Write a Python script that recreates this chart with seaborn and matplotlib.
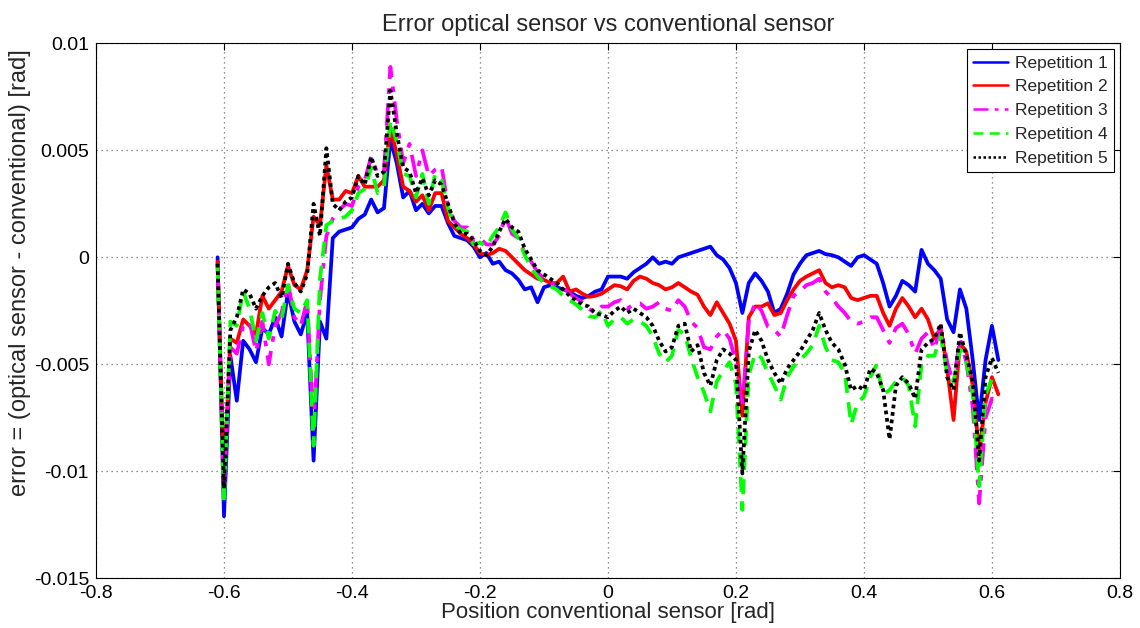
import numpy as np
import pandas as pd
import matplotlib
matplotlib.use("Agg")
import matplotlib.pyplot as plt
import seaborn as sns

# Position of the conventional sensor [rad], shared by all repetitions
position = [
    -0.61, -0.60, -0.59, -0.58, -0.57, -0.56, -0.55, -0.54, -0.53, -0.52,
    -0.51, -0.50, -0.49, -0.48, -0.47, -0.46, -0.45, -0.44, -0.43, -0.42,
    -0.41, -0.40, -0.39, -0.38, -0.37, -0.36, -0.35, -0.34, -0.33, -0.32,
    -0.31, -0.30, -0.29, -0.28, -0.27, -0.26, -0.25, -0.24, -0.23, -0.22,
    -0.21, -0.20, -0.19, -0.18, -0.17, -0.16, -0.15, -0.14, -0.13, -0.12,
    -0.11, -0.10, -0.09, -0.08, -0.07, -0.06, -0.05, -0.04, -0.03, -0.02,
    -0.01, 0.00, 0.01, 0.02, 0.03, 0.04, 0.05, 0.06, 0.07, 0.08,
    0.09, 0.10, 0.11, 0.12, 0.13, 0.14, 0.15, 0.16, 0.17, 0.18,
    0.19, 0.20, 0.21, 0.22, 0.23, 0.24, 0.25, 0.26, 0.27, 0.28,
    0.29, 0.30, 0.31, 0.32, 0.33, 0.34, 0.35, 0.36, 0.37, 0.38,
    0.39, 0.40, 0.41, 0.42, 0.43, 0.44, 0.45, 0.46, 0.47, 0.48,
    0.49, 0.50, 0.51, 0.52, 0.53, 0.54, 0.55, 0.56, 0.57, 0.58,
    0.59, 0.60, 0.61,
]

# Error (optical - conventional) per repetition, in mrad
rep1_mrad = [
    0.0, -12.1, -4.6, -6.7, -3.9, -4.3, -4.9, -3.3, -3.6, -2.8,
    -3.7, -1.6, -3.0, -3.6, -2.6, -9.5, -3.0, -3.8, 0.9, 1.2,
    1.3, 1.4, 1.8, 2.0, 2.7, 2.1, 2.3, 5.5, 4.4, 2.8,
    3.1, 2.2, 2.5, 2.05, 2.4, 2.4, 1.6, 1.0, 0.9, 0.8,
    0.5, 0.0, 0.2, -0.3, -0.2, -0.6, -0.75, -1.05, -1.5, -1.4,
    -2.1, -1.4, -1.3, -1.4, -1.5, -1.6, -1.8, -1.9, -1.8, -1.6,
    -1.5, -0.9, -0.9, -0.9, -1.0, -0.7, -0.5, -0.3, 0.0, -0.3,
    -0.2, -0.3, 0.0, 0.1, 0.2, 0.3, 0.4, 0.5, 0.1, -0.1,
    -0.5, -1.2, -2.6, -1.2, -0.75, -1.1, -1.6, -2.6, -2.4, -1.7,
    -0.8, -0.3, 0.1, 0.2, 0.3, 0.15, 0.1, 0.0, -0.2, -0.4,
    0.0, 0.1, -0.1, -0.3, -1.2, -2.3, -1.8, -1.1, -1.3, -1.6,
    0.35, -0.3, -0.6, -1.0, -2.9, -3.5, -1.5, -2.4, -4.8, -7.6,
    -4.8, -3.2, -4.8,
]
rep2_mrad = [
    -0.2, -10.5, -3.8, -4.0, -2.9, -3.2, -3.6, -1.8, -2.4, -2.0,
    -1.6, -0.4, -1.3, -1.5, -0.6, 1.9, 1.5, 4.3, 2.7, 2.7,
    3.1, 3.0, 3.8, 3.3, 3.3, 3.3, 3.6, 6.1, 4.8, 3.3,
    3.1, 2.6, 2.9, 2.2, 3.0, 3.0, 1.7, 1.4, 1.1, 0.9,
    0.6, 0.2, 0.1, 0.2, 0.4, 0.3, 0.0, -0.3, -0.6, -0.8,
    -1.0, -1.05, -1.2, -1.2, -0.9, -1.6, -1.5, -1.7, -1.85, -1.8,
    -1.7, -1.5, -1.3, -1.35, -1.5, -1.1, -0.9, -1.0, -1.2, -1.3,
    -1.5, -1.4, -1.2, -1.4, -1.6, -1.75, -2.3, -2.7, -2.1, -2.6,
    -3.1, -3.9, -7.4, -2.8, -2.3, -2.3, -2.15, -2.7, -2.6, -2.0,
    -1.5, -1.1, -0.9, -0.75, -0.6, -1.2, -1.4, -1.3, -1.4, -1.9,
    -2.0, -1.9, -1.8, -1.8, -2.6, -3.2, -2.4, -1.9, -2.3, -2.8,
    -2.4, -2.9, -3.8, -3.3, -5.2, -7.6, -4.0, -4.4, -6.0, -9.1,
    -6.8, -5.6, -6.4,
]
rep3_mrad = [
    -0.3, -11.0, -4.2, -4.5, -3.2, -3.0, -4.4, -3.0, -5.0, -3.2,
    -2.6, -1.2, -2.8, -3.2, -2.0, -8.0, -2.0, 1.0, 1.8, 2.2,
    2.5, 2.4, 3.3, 3.6, 4.7, 3.9, 4.0, 8.9, 6.4, 4.4,
    5.3, 3.8, 5.0, 3.8, 4.1, 4.25, 2.4, 1.7, 1.4, 1.4,
    0.8, 0.9, 0.6, 0.6, 1.0, 1.9, 1.1, 0.9, 0.2, -0.2,
    -0.7, -1.0, -1.2, -1.3, -1.4, -1.7, -1.9, -2.1, -2.4, -2.6,
    -2.3, -2.3, -2.1, -2.0, -2.4, -2.2, -2.15, -2.4, -2.3, -2.1,
    -2.4, -2.5, -2.0, -2.3, -3.0, -3.3, -4.2, -4.3, -3.7, -3.4,
    -3.8, -4.9, -7.0, -3.0, -2.1, -2.5, -3.25, -3.4, -3.7, -2.7,
    -1.8, -1.6, -1.3, -1.2, -1.0, -1.6, -1.9, -2.3, -2.6, -3.0,
    -3.1, -3.0, -2.8, -2.8, -3.4, -4.0, -3.3, -3.1, -3.6, -4.5,
    -3.8, -3.5, -4.3, -3.2, -4.9, -5.9, -3.8, -4.9, -7.0, -11.5,
    -7.5, -6.6, -6.7,
]
rep4_mrad = [
    -0.4, -11.5, -3.0, -3.2, -1.6, -2.4, -3.9, -2.6, -3.8, -2.5,
    -2.9, -1.3, -2.4, -2.6, -2.0, -8.8, -1.0, 1.5, 1.7, 1.8,
    1.9, 2.2, 3.0, 3.2, 4.2, 3.0, 3.3, 6.4, 5.4, 3.9,
    3.8, 2.8, 3.9, 2.5, 3.9, 3.6, 2.3, 1.5, 1.3, 1.2,
    0.6, 0.7, 0.5, 1.0, 1.4, 2.1, 1.3, 0.9, 0.1, -0.5,
    -0.9, -1.2, -1.35, -1.5, -1.8, -2.0, -2.2, -2.45, -2.75, -2.8,
    -2.5, -3.2, -2.9, -2.8, -3.1, -2.9, -3.0, -3.2, -3.7, -4.5,
    -4.9, -4.6, -3.4, -3.6, -4.7, -5.6, -6.3, -7.2, -5.8, -5.3,
    -4.9, -5.9, -11.8, -5.5, -4.5, -4.7, -5.4, -6.0, -6.65, -5.6,
    -5.1, -4.8, -4.5, -4.1, -3.2, -4.2, -4.8, -4.9, -5.4, -7.8,
    -6.8, -6.5, -5.6, -5.0, -6.4, -6.2, -5.8, -5.6, -6.0, -7.9,
    -5.0, -4.6, -4.6, -3.7, -5.4, -5.8, -4.3, -4.9, -6.4, -10.7,
    -6.4, -5.7, -5.5,
]
rep5_mrad = [
    -0.3, -10.8, -3.4, -2.8, -1.5, -1.7, -2.4, -1.8, -1.4, -1.2,
    -1.9, -0.3, -1.2, -1.6, -0.8, 2.5, 1.0, 5.1, 2.5, 2.2,
    2.6, 2.8, 3.8, 3.4, 4.7, 3.8, 4.0, 7.8, 5.8, 4.2,
    4.0, 3.0, 3.7, 2.9, 3.6, 3.4, 2.5, 1.6, 1.1, 1.1,
    0.8, 0.3, 0.1, 0.5, 1.2, 1.8, 1.4, 1.2, 0.4, -0.1,
    -0.6, -0.8, -1.0, -1.2, -1.5, -1.8, -2.0, -2.2, -2.3, -2.6,
    -2.7, -2.8, -2.5, -2.3, -2.6, -2.4, -2.6, -2.8, -3.2, -3.9,
    -4.4, -4.2, -3.2, -3.1, -4.4, -4.1, -5.4, -6.0, -4.8, -4.3,
    -4.5, -4.8, -10.1, -4.4, -3.4, -3.9, -4.8, -5.4, -5.9, -5.2,
    -4.8, -4.4, -3.9, -3.4, -2.6, -3.4, -4.0, -4.3, -5.0, -6.2,
    -6.0, -6.2, -5.2, -5.4, -6.2, -8.5, -6.0, -5.6, -5.9, -6.6,
    -4.3, -4.0, -3.8, -3.1, -5.6, -6.2, -3.5, -4.6, -5.8, -9.5,
    -5.6, -4.7, -5.4,
]

labels = ["Repetition 1", "Repetition 2", "Repetition 3", "Repetition 4", "Repetition 5"]
series = [rep1_mrad, rep2_mrad, rep3_mrad, rep4_mrad, rep5_mrad]
colors = ["#0000FF", "#FF0000", "#FF00FF", "#00FF00", "#000000"]
styles = ["-", "-", (0, (6, 2.5, 1.5, 2.5)), (0, (4, 2.5)), (0, (1, 1))]

x_ticks = [-0.8, -0.6, -0.4, -0.2, 0, 0.2, 0.4, 0.6, 0.8]
x_ticklabels = ["-0.8", "-0.6", "-0.4", "-0.2", "0", "0.2", "0.4", "0.6", "0.8"]
y_ticks = [-0.015, -0.01, -0.005, 0, 0.005, 0.01]
y_ticklabels = ["-0.015", "-0.01", "-0.005", "0", "0.005", "0.01"]

sns.set_style("white")
plt.rcParams["font.family"] = ["Liberation Sans", "DejaVu Sans"]

fig = plt.figure(figsize=(11.4, 6.28), dpi=100)
ax = fig.add_axes([0.0842, 0.0791, 0.8982, 0.8519])

for lab, vals, col, ls in zip(labels, series, colors, styles):
    df = pd.DataFrame({"position": position,
                       "error": np.asarray(vals) * 1e-3})
    sns.lineplot(data=df, x="position", y="error", ax=ax, color=col,
                 linestyle=ls, linewidth=2.7, label=lab, sort=False,
                 estimator=None)

ax.set_xlim(-0.8, 0.8)
ax.set_ylim(-0.015, 0.01)
ax.set_xticks(x_ticks)
ax.set_xticklabels(x_ticklabels)
ax.set_yticks(y_ticks)
ax.set_yticklabels(y_ticklabels)
ax.tick_params(direction="in", length=5, width=0.8, labelsize=14,
               top=True, right=True, colors="black", pad=5)
ax.grid(True, color="#6f6f6f", linestyle=(0, (1, 3)), linewidth=0.9)
for sp in ax.spines.values():
    sp.set_color("black")
    sp.set_linewidth(0.8)

ax.set_title("Error optical sensor vs conventional sensor", fontsize=17, pad=9)
ax.set_xlabel("Position conventional sensor [rad]", fontsize=16, labelpad=0)
ax.set_ylabel("error = (optical sensor - conventional) [rad]", fontsize=17)
ax.yaxis.set_label_coords(-0.063, 0.571)

leg = ax.legend(loc="upper right", fontsize=12.5, frameon=True, fancybox=False,
                edgecolor="black", framealpha=1, handlelength=2.0,
                borderaxespad=0.35, borderpad=0.35, labelspacing=0.5,
                handletextpad=0.4)
leg.get_frame().set_linewidth(0.8)
for line in leg.get_lines():
    line.set_linewidth(1.8)

fig.savefig("out.png", dpi=100)
